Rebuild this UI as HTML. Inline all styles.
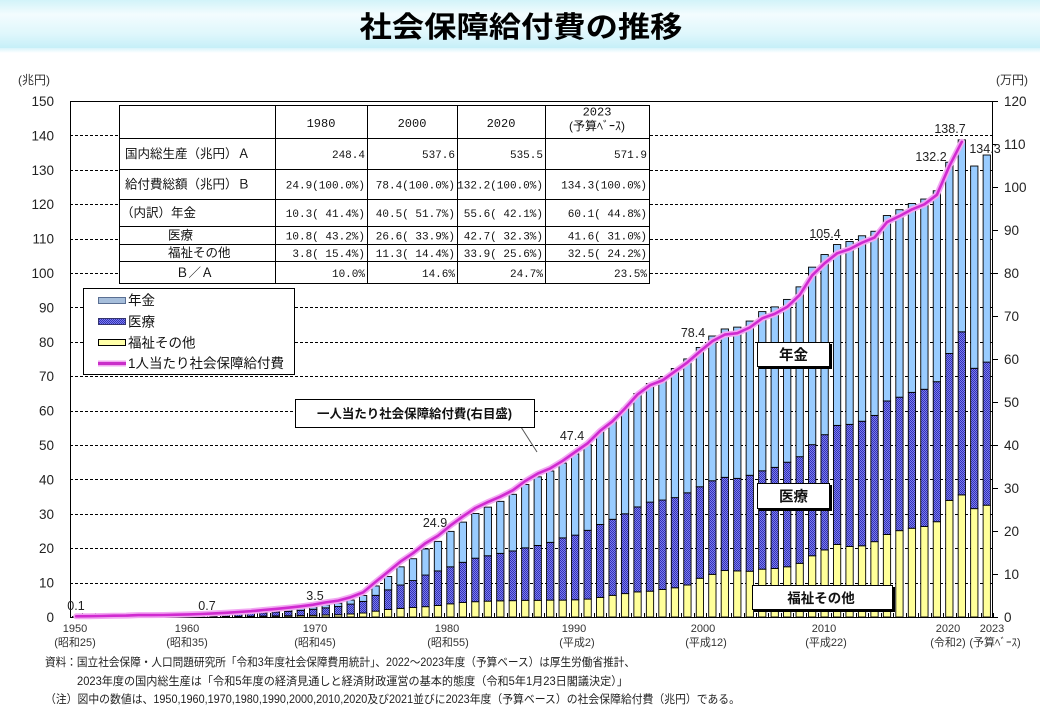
<!DOCTYPE html>
<html><head><meta charset="utf-8">
<style>
html,body{margin:0;padding:0;background:#fff;width:1040px;height:720px;overflow:hidden;}
svg{display:block;}
text{font-family:"Liberation Sans","Noto Sans CJK JP",sans-serif;fill:#111;}
.jp{font-family:"Liberation Sans","Noto Sans CJK JP",sans-serif;}
.mono{font-family:"Liberation Mono","Noto Sans CJK JP",monospace;white-space:pre;}
.ax{font-size:13.5px;fill:#222;}
.xl{font-size:11px;fill:#333;}
.dl{font-size:12.5px;fill:#222;}
.tb{font-size:12.5px;}
.tm{font-size:11px;}
.lg{font-size:13.5px;}
.bx{font-weight:bold;}
.fn{font-size:11.5px;fill:#222;}
</style></head><body>
<svg id="c" width="1040" height="720" viewBox="0 0 1040 720" xmlns="http://www.w3.org/2000/svg">
<defs>
 <linearGradient id="band" x1="0" y1="0" x2="0" y2="1">
  <stop offset="0" stop-color="#d2f3f9"/>
  <stop offset="0.3" stop-color="#f3fcfe"/>
  <stop offset="0.7" stop-color="#dff7fc"/>
  <stop offset="1" stop-color="#c6eff8"/>
 </linearGradient>
 <linearGradient id="fade" x1="0" y1="0" x2="0" y2="1">
  <stop offset="0" stop-color="#d8f4fa"/>
  <stop offset="1" stop-color="#ffffff"/>
 </linearGradient>
 <pattern id="hatch" width="2" height="2" patternUnits="userSpaceOnUse">
  <rect width="2" height="2" fill="#7b7bf2"/>
  <rect width="1" height="1" fill="#3434b4"/>
  <rect x="1" y="1" width="1" height="1" fill="#3434b4"/>
 </pattern>
</defs>
<rect x="0" y="0" width="1040" height="48" fill="url(#band)"/>
<rect x="0" y="48" width="1040" height="5" fill="url(#fade)"/>
<text x="521" y="37" text-anchor="middle" font-size="29" font-weight="bold" textLength="323" lengthAdjust="spacingAndGlyphs" style="fill:#000">社会保障給付費の推移</text>

<g id="grid"></g>
<g id="bars"></g>
<g id="axes"></g>
<g id="line"></g>

<!-- axis unit labels -->
<text class="xl" x="34" y="84" text-anchor="middle" style="font-size:12px">(兆円)</text>
<text class="xl" x="1012" y="84" text-anchor="middle" style="font-size:12px">(万円)</text>

<!-- left axis labels -->
<g class="ax" text-anchor="end">
<text class="ax" x="54" y="622">0</text>
<text class="ax" x="54" y="587.6">10</text>
<text class="ax" x="54" y="553.2">20</text>
<text class="ax" x="54" y="518.8">30</text>
<text class="ax" x="54" y="484.4">40</text>
<text class="ax" x="54" y="450">50</text>
<text class="ax" x="54" y="415.6">60</text>
<text class="ax" x="54" y="381.2">70</text>
<text class="ax" x="54" y="346.8">80</text>
<text class="ax" x="54" y="312.4">90</text>
<text class="ax" x="54" y="278">100</text>
<text class="ax" x="54" y="243.6">110</text>
<text class="ax" x="54" y="209.2">120</text>
<text class="ax" x="54" y="174.8">130</text>
<text class="ax" x="54" y="140.4">140</text>
<text class="ax" x="54" y="106">150</text>
</g>
<!-- right axis labels -->
<g>
<text class="ax" x="1004" y="622">0</text>
<text class="ax" x="1004" y="579">10</text>
<text class="ax" x="1004" y="536">20</text>
<text class="ax" x="1004" y="493">30</text>
<text class="ax" x="1004" y="450">40</text>
<text class="ax" x="1004" y="407">50</text>
<text class="ax" x="1004" y="364">60</text>
<text class="ax" x="1004" y="321">70</text>
<text class="ax" x="1004" y="278">80</text>
<text class="ax" x="1004" y="235">90</text>
<text class="ax" x="1004" y="192">100</text>
<text class="ax" x="1004" y="149">110</text>
<text class="ax" x="1004" y="106">120</text>
</g>

<!-- x axis labels -->
<g text-anchor="middle">
<text class="xl" x="75" y="632" text-anchor="middle">1950</text>
<text class="xl" x="75" y="646" text-anchor="middle">(昭和25)</text>
<text class="xl" x="187" y="632" text-anchor="middle">1960</text>
<text class="xl" x="187" y="646" text-anchor="middle">(昭和35)</text>
<text class="xl" x="315" y="632" text-anchor="middle">1970</text>
<text class="xl" x="315" y="646" text-anchor="middle">(昭和45)</text>
<text class="xl" x="447" y="632" text-anchor="middle">1980</text>
<text class="xl" x="448" y="646" text-anchor="middle">(昭和55)</text>
<text class="xl" x="574" y="632" text-anchor="middle">1990</text>
<text class="xl" x="577" y="646" text-anchor="middle">(平成2)</text>
<text class="xl" x="703" y="632" text-anchor="middle">2000</text>
<text class="xl" x="706" y="646" text-anchor="middle">(平成12)</text>
<text class="xl" x="824" y="632" text-anchor="middle">2010</text>
<text class="xl" x="826" y="646" text-anchor="middle">(平成22)</text>
<text class="xl" x="948" y="632" text-anchor="middle">2020</text>
<text class="xl" x="948" y="646" text-anchor="middle">(令和2)</text>
<text class="xl" x="992" y="632" text-anchor="middle">2023</text>
<text class="xl" x="995" y="646" text-anchor="middle">(予算ﾍﾞｰｽ)</text>
</g>

<!-- table -->
<g>
<rect x="119.5" y="105.5" width="530" height="178" fill="#fff" stroke="#000" stroke-width="1"/>
<g stroke="#000" stroke-width="1">
<line x1="275.5" y1="105.5" x2="275.5" y2="283.5"/>
<line x1="367.5" y1="105.5" x2="367.5" y2="283.5"/>
<line x1="457.5" y1="105.5" x2="457.5" y2="283.5"/>
<line x1="545.5" y1="105.5" x2="545.5" y2="283.5"/>
<line x1="119.5" y1="138.5" x2="649.5" y2="138.5"/>
<line x1="119.5" y1="169.5" x2="649.5" y2="169.5"/>
<line x1="119.5" y1="199.5" x2="649.5" y2="199.5"/>
<line x1="119.5" y1="226.5" x2="649.5" y2="226.5"/>
<line x1="119.5" y1="244.5" x2="649.5" y2="244.5"/>
<line x1="119.5" y1="261.5" x2="649.5" y2="261.5"/>
</g>
<text class="mono" x="321" y="127" text-anchor="middle" style="font-size:12px">1980</text>
<text class="mono" x="412" y="127" text-anchor="middle" style="font-size:12px">2000</text>
<text class="mono" x="501" y="127" text-anchor="middle" style="font-size:12px">2020</text>
<text class="mono" x="597" y="115.5" text-anchor="middle" style="font-size:12px">2023</text>
<text class="jp" x="597" y="130" text-anchor="middle" style="font-size:12px">(予算ﾍﾞｰｽ)</text>

<text class="jp tb" x="125" y="158">国内総生産（兆円）Ａ</text>
<text class="jp tb" x="125" y="188.5">給付費総額（兆円）Ｂ</text>
<text class="jp tb" x="121" y="217">（内訳）年金</text>
<text class="jp tb" x="168" y="239.5">医療</text>
<text class="jp tb" x="168" y="257">福祉その他</text>
<text class="jp tb" x="176" y="277">Ｂ／Ａ</text>

<g text-anchor="end">
<text class="mono tm" x="365" y="158" text-anchor="end">248.4</text>
<text class="mono tm" x="455" y="158" text-anchor="end">537.6</text>
<text class="mono tm" x="543" y="158" text-anchor="end">535.5</text>
<text class="mono tm" x="647" y="158" text-anchor="end">571.9</text>

<text class="mono tm" x="365" y="188.5" text-anchor="end">24.9(100.0%)</text>
<text class="mono tm" x="455" y="188.5" text-anchor="end">78.4(100.0%)</text>
<text class="mono tm" x="543" y="188.5" text-anchor="end">132.2(100.0%)</text>
<text class="mono tm" x="647" y="188.5" text-anchor="end">134.3(100.0%)</text>

<text class="mono tm" x="365" y="217" text-anchor="end" xml:space="preserve">10.3( 41.4%)</text>
<text class="mono tm" x="455" y="217" text-anchor="end" xml:space="preserve">40.5( 51.7%)</text>
<text class="mono tm" x="543" y="217" text-anchor="end" xml:space="preserve">55.6( 42.1%)</text>
<text class="mono tm" x="647" y="217" text-anchor="end" xml:space="preserve">60.1( 44.8%)</text>

<text class="mono tm" x="365" y="239.5" text-anchor="end" xml:space="preserve">10.8( 43.2%)</text>
<text class="mono tm" x="455" y="239.5" text-anchor="end" xml:space="preserve">26.6( 33.9%)</text>
<text class="mono tm" x="543" y="239.5" text-anchor="end" xml:space="preserve">42.7( 32.3%)</text>
<text class="mono tm" x="647" y="239.5" text-anchor="end" xml:space="preserve">41.6( 31.0%)</text>

<text class="mono tm" x="365" y="257" text-anchor="end" xml:space="preserve">3.8( 15.4%)</text>
<text class="mono tm" x="455" y="257" text-anchor="end" xml:space="preserve">11.3( 14.4%)</text>
<text class="mono tm" x="543" y="257" text-anchor="end" xml:space="preserve">33.9( 25.6%)</text>
<text class="mono tm" x="647" y="257" text-anchor="end" xml:space="preserve">32.5( 24.2%)</text>

<text class="mono tm" x="365" y="277" text-anchor="end">10.0%</text>
<text class="mono tm" x="455" y="277" text-anchor="end">14.6%</text>
<text class="mono tm" x="543" y="277" text-anchor="end">24.7%</text>
<text class="mono tm" x="647" y="277" text-anchor="end">23.5%</text>
</g>
</g>

<!-- legend -->
<g>
<rect x="83.5" y="288.5" width="211" height="86" fill="#fff" stroke="#000" stroke-width="1"/>
<rect x="98.5" y="297.5" width="27" height="6" fill="#a6bedb" stroke="#5a6f92" stroke-width="1"/>
<rect x="98.5" y="318.5" width="27" height="6" fill="url(#hatch)" stroke="#33336e" stroke-width="1"/>
<rect x="98.5" y="339.5" width="27" height="6" fill="#ffffa8" stroke="#000" stroke-width="1"/>
<line x1="98" y1="363.5" x2="126" y2="363.5" stroke="#f2a8f2" stroke-width="6"/>
<line x1="98" y1="363.5" x2="126" y2="363.5" stroke="#c92ec9" stroke-width="3"/>
<text class="jp lg" x="128" y="305">年金</text>
<text class="jp lg" x="128" y="326.5">医療</text>
<text class="jp lg" x="128" y="347.5">福祉その他</text>
<text class="jp lg" x="128" y="368">1人当たり社会保障給付費</text>
</g>

<!-- annotation: per-capita -->
<line x1="521" y1="427" x2="537" y2="452" stroke="#555" stroke-width="1"/>
<rect x="295.5" y="399.5" width="239" height="28" fill="#fff" stroke="#000" stroke-width="1"/>
<text class="jp bx" x="317" y="418" style="font-size:12.5px" textLength="195" lengthAdjust="spacingAndGlyphs">一人当たり社会保障給付費(右目盛)</text>

<!-- annotation boxes with shadow -->
<rect x="759" y="344" width="73" height="25" fill="#000"/>
<rect x="757.5" y="342.5" width="72" height="24" fill="#fff" stroke="#000" stroke-width="1"/>
<text class="jp bx" x="793.5" y="360" text-anchor="middle" style="font-size:14.5px">年金</text>

<rect x="759" y="485" width="73" height="26" fill="#000"/>
<rect x="757.5" y="483.5" width="72" height="25" fill="#fff" stroke="#000" stroke-width="1"/>
<text class="jp bx" x="793.5" y="501.5" text-anchor="middle" style="font-size:14.5px">医療</text>

<rect x="754" y="587" width="141" height="25" fill="#000"/>
<rect x="752.5" y="585.5" width="140" height="24" fill="#fff" stroke="#000" stroke-width="1"/>
<text class="jp bx" x="821" y="603" text-anchor="middle" style="font-size:13.5px">福祉その他</text>

<!-- data labels -->
<g text-anchor="middle">
<text class="dl" x="76" y="610" text-anchor="middle">0.1</text>
<text class="dl" x="207" y="610" text-anchor="middle">0.7</text>
<text class="dl" x="315" y="600" text-anchor="middle">3.5</text>
<text class="dl" x="435" y="527" text-anchor="middle">24.9</text>
<text class="dl" x="572" y="440" text-anchor="middle">47.4</text>
<text class="dl" x="693" y="337" text-anchor="middle">78.4</text>
<text class="dl" x="825" y="238" text-anchor="middle">105.4</text>
<text class="dl" x="931" y="161" text-anchor="middle">132.2</text>
<text class="dl" x="950" y="133" text-anchor="middle">138.7</text>
<text class="dl" x="985" y="153" text-anchor="middle">134.3</text>
</g>

<!-- footnotes -->
<text class="jp fn" x="45" y="666" textLength="590" lengthAdjust="spacingAndGlyphs">資料：国立社会保障・人口問題研究所「令和3年度社会保障費用統計」、2022～2023年度（予算ベース）は厚生労働省推計、</text>
<text class="jp fn" x="77" y="685" textLength="551" lengthAdjust="spacingAndGlyphs">2023年度の国内総生産は「令和5年度の経済見通しと経済財政運営の基本的態度（令和5年1月23日閣議決定）」</text>
<text class="jp fn" x="45" y="703" textLength="695" lengthAdjust="spacingAndGlyphs">（注）図中の数値は、1950,1960,1970,1980,1990,2000,2010,2020及び2021並びに2023年度（予算ベース）の社会保障給付費（兆円）である。</text>
</svg>

<script>
(function(){
const NS="http://www.w3.org/2000/svg";
function el(tag,attrs,parent){const e=document.createElementNS(NS,tag);for(const k in attrs)e.setAttribute(k,attrs[k]);parent.appendChild(e);return e;}
const T=[0.13,0.16,0.20,0.26,0.29,0.39,0.40,0.43,0.49,0.55,
0.65,0.79,0.93,1.12,1.32,1.60,1.87,2.16,2.53,2.94,
3.52,4.01,4.93,6.24,9.02,11.77,14.58,16.94,19.78,21.98,
24.89,27.58,30.09,31.94,33.62,35.67,38.50,40.74,42.44,44.74,
47.42,50.08,53.84,56.84,60.65,64.98,67.87,69.45,72.25,75.02,
78.36,81.68,83.73,84.27,86.03,88.78,90.15,92.32,95.97,101.7,
105.37,108.27,109.17,110.82,112.13,116.7,118.4,120.2,121.5,123.9,
132.2,138.7,131.1,134.3];
const Y=[0.07,0.08,0.09,0.12,0.13,0.18,0.17,0.17,0.17,0.18,
0.13,0.14,0.17,0.19,0.21,0.28,0.32,0.36,0.42,0.49,
0.59,0.66,0.88,1.15,1.70,2.18,2.5,2.75,3.0,3.35,
3.83,4.2,4.45,4.6,4.7,4.75,4.85,4.85,4.9,4.9,
5.0,5.2,5.7,6.3,6.8,7.3,7.5,8.0,8.5,9.3,
11.26,12.4,13.5,13.4,13.3,13.9,14.1,14.6,15.6,17.8,
19.5,21.1,20.5,20.7,21.9,24.0,25.1,25.8,26.3,27.7,
33.9,35.5,31.5,32.5];
const H=[0.13,0.16,0.19,0.25,0.28,0.37,0.38,0.40,0.45,0.49,
0.54,0.65,0.77,0.92,1.09,1.23,1.44,1.66,1.95,2.26,
2.66,3.05,3.75,4.53,6.3,7.89,9.3,10.6,12.2,13.4,
14.59,15.9,17.1,17.8,18.5,19.2,20.1,20.8,21.7,23.0,
23.8,25.2,26.9,28.4,30.0,32.0,33.4,34.0,34.7,36.1,
37.86,39.6,40.6,40.3,41.2,42.5,43.5,45.0,46.6,50.1,
53.0,55.7,56.0,56.9,58.6,62.8,63.9,65.3,66.2,68.4,
76.6,82.9,72.3,74.1];
const P=[0.832,0.846,0.858,0.870,0.882,0.893,0.901,0.909,0.918,0.927,
0.934,0.943,0.952,0.962,0.972,0.983,0.992,1.002,1.014,1.025,
1.037,1.052,1.071,1.089,1.106,1.119,1.131,1.142,1.152,1.162,
1.171,1.179,1.187,1.195,1.202,1.211,1.217,1.222,1.228,1.232,
1.236,1.240,1.244,1.248,1.250,1.256,1.259,1.262,1.265,1.267,
1.269,1.273,1.275,1.277,1.278,1.278,1.279,1.280,1.281,1.280,
1.281,1.280,1.276,1.273,1.271,1.271,1.270,1.268,1.266,1.262,
1.261,1.255];
const X0=70,X1=993,N=74,S=(X1-X0)/N,BW=8.3;
const yL=v=>617-v*3.44, yR=v=>617-v*4.3;
const grid=document.getElementById('grid');
for(let k=1;k<=14;k++){const y=Math.round(yL(10*k))+0.5;el('line',{x1:X0,x2:X1,y1:y,y2:y,stroke:'#000','stroke-width':1,'stroke-dasharray':'3,2'},grid);}
const bars=document.getElementById('bars');
for(let i=0;i<N;i++){
 const x=X0+i*S+(S-BW)/2+0.5;
 const segs=[[0,Y[i],'#ffff99'],[Y[i],H[i],'url(#hatch)'],[H[i],T[i],'#99ccff']];
 for(const s of segs){const a=s[0],b=s[1];if(b-a<=0)continue;
  el('rect',{x:x.toFixed(2),y:yL(b).toFixed(2),width:(BW-1).toFixed(2),height:((b-a)*3.44).toFixed(2),fill:s[2],stroke:'#000','stroke-width':0.9},bars);}
}
const ax=document.getElementById('axes');
el('line',{x1:70.5,y1:101,x2:70.5,y2:617.5,stroke:'#000','stroke-width':1},ax);
el('line',{x1:992.5,y1:101,x2:992.5,y2:617.5,stroke:'#000','stroke-width':1},ax);
el('line',{x1:70,y1:101.5,x2:993,y2:101.5,stroke:'#000','stroke-width':1},ax);
el('line',{x1:70,y1:617.5,x2:993,y2:617.5,stroke:'#000','stroke-width':1},ax);
for(let k=0;k<=12;k++){const y=Math.round(yR(10*k))+0.5;el('line',{x1:993,x2:998,y1:y,y2:y,stroke:'#000','stroke-width':1},ax);}
for(let i=0;i<=N;i++){const x=Math.round(X0+i*S)+0.5;el('line',{x1:x,x2:x,y1:613,y2:617,stroke:'#000','stroke-width':1},ax);}
const lg=document.getElementById('line');
const pts=[];for(let i=0;i<P.length;i++){pts.push((X0+(i+0.5)*S).toFixed(1)+','+yR(T[i]/P[i]).toFixed(1));}
el('polyline',{points:pts.join(' '),fill:'none',stroke:'#f2a8f2','stroke-width':6,'stroke-linejoin':'round','stroke-linecap':'round'},lg);
el('polyline',{points:pts.join(' '),fill:'none',stroke:'#d02ad0','stroke-width':2.6,'stroke-linejoin':'round','stroke-linecap':'round'},lg);
})();
</script>
</body></html>
